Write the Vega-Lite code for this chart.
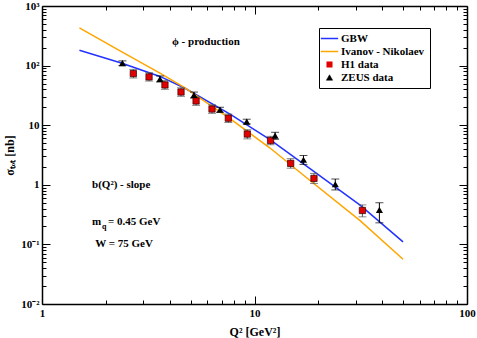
{
  "$schema": "https://vega.github.io/schema/vega-lite/v6.json",
  "width": 425,
  "height": 298,
  "autosize": {"type": "none"},
  "padding": {"left": 42, "top": 6, "right": 10, "bottom": 34},
  "background": "white",
  "config": {
    "view": {"stroke": null},
    "font": "Liberation Serif",
    "axis": {
      "domainColor": "black", "domainWidth": 1.5, "tickColor": "black", "tickWidth": 1,
      "labelFont": "Liberation Serif", "labelFontWeight": "bold", "labelFontSize": 11, "labelColor": "black",
      "titleFont": "Liberation Serif", "titleFontWeight": "bold", "titleFontSize": 12, "titleColor": "black",
      "grid": false, "labelFlush": false, "labelOverlap": false
    }
  },
  "datasets": {
    "curves": [
      {"series": "GBW", "Q2": 1.5, "sigma": 181.5},
      {"series": "GBW", "Q2": 2.38, "sigma": 109.7},
      {"series": "GBW", "Q2": 3.59, "sigma": 65.8},
      {"series": "GBW", "Q2": 4.71, "sigma": 41.7},
      {"series": "GBW", "Q2": 7.67, "sigma": 15.4},
      {"series": "GBW", "Q2": 11.83, "sigma": 5.75},
      {"series": "GBW", "Q2": 18.25, "sigma": 1.87},
      {"series": "GBW", "Q2": 31.4, "sigma": 0.456},
      {"series": "GBW", "Q2": 50, "sigma": 0.11},
      {"series": "Ivanov - Nikolaev", "Q2": 1.5, "sigma": 430},
      {"series": "Ivanov - Nikolaev", "Q2": 2.33, "sigma": 176.6},
      {"series": "Ivanov - Nikolaev", "Q2": 3.59, "sigma": 74.5},
      {"series": "Ivanov - Nikolaev", "Q2": 4.71, "sigma": 42.2},
      {"series": "Ivanov - Nikolaev", "Q2": 7.67, "sigma": 12.9},
      {"series": "Ivanov - Nikolaev", "Q2": 11.83, "sigma": 4.14},
      {"series": "Ivanov - Nikolaev", "Q2": 18.25, "sigma": 1.18},
      {"series": "Ivanov - Nikolaev", "Q2": 31.4, "sigma": 0.25},
      {"series": "Ivanov - Nikolaev", "Q2": 50, "sigma": 0.0564}
    ],
    "h1": [
      {"Q2": 2.69, "sigma": 73.5, "lo": 62, "hi": 86.5},
      {"Q2": 3.19, "sigma": 64.6, "lo": 55, "hi": 76},
      {"Q2": 3.79, "sigma": 47.4, "lo": 40, "hi": 56},
      {"Q2": 4.51, "sigma": 36.1, "lo": 30.5, "hi": 42.5},
      {"Q2": 5.31, "sigma": 25.5, "lo": 21.5, "hi": 30},
      {"Q2": 6.31, "sigma": 18.7, "lo": 15.8, "hi": 22},
      {"Q2": 7.53, "sigma": 13.1, "lo": 11.1, "hi": 15.4},
      {"Q2": 9.25, "sigma": 7.11, "lo": 5.9, "hi": 8.4},
      {"Q2": 11.9, "sigma": 5.53, "lo": 4.7, "hi": 6.5},
      {"Q2": 14.8, "sigma": 2.29, "lo": 1.9, "hi": 2.75},
      {"Q2": 19.05, "sigma": 1.28, "lo": 1.05, "hi": 1.55},
      {"Q2": 32.2, "sigma": 0.371, "lo": 0.29, "hi": 0.46}
    ],
    "zeus": [
      {"Q2": 2.39, "sigma": 110, "lo": 100, "hi": 120},
      {"Q2": 3.59, "sigma": 59.7, "lo": 53, "hi": 67},
      {"Q2": 5.19, "sigma": 32.1, "lo": 28.5, "hi": 36},
      {"Q2": 6.88, "sigma": 18.2, "lo": 16.5, "hi": 20},
      {"Q2": 9.19, "sigma": 11.5, "lo": 10.5, "hi": 12.6},
      {"Q2": 12.5, "sigma": 6.67, "lo": 5.8, "hi": 7.6},
      {"Q2": 17.0, "sigma": 2.63, "lo": 2.2, "hi": 3.1},
      {"Q2": 24.0, "sigma": 1.02, "lo": 0.82, "hi": 1.25},
      {"Q2": 38.7, "sigma": 0.38, "lo": 0.23, "hi": 0.5}
    ],
    "notes": [
      {"Q2": 4.09, "sigma": 250, "text": "ϕ - production"},
      {"Q2": 1.72, "sigma": 1.0, "text": "b(Q²) - slope"},
      {"Q2": 1.72, "sigma": 0.236, "text": "m"},
      {"Q2": 1.78, "sigma": 0.1, "text": "W = 75 GeV"}
    ],
    "subs": [
      {"Q2": 1.72, "sigma": 0.236, "text": "q"}
    ],
    "rest": [
      {"Q2": 1.72, "sigma": 0.236, "text": "= 0.45 GeV"}
    ]
  },
  "layer": [
    {
      "data": {"name": "curves"},
      "mark": {"type": "line", "strokeWidth": 1.5, "clip": true},
      "encoding": {
        "x": {
          "field": "Q2", "type": "quantitative",
          "scale": {"type": "log", "domain": [1, 100], "nice": false},
          "axis": {
            "orient": "bottom", "title": "Q² [GeV²]", "titlePadding": 4, "labelPadding": 11,
            "values": [1,2,3,4,5,6,7,8,9,10,20,30,40,50,60,70,80,90,100],
            "labelExpr": "datum.value == 1 ? '1' : datum.value == 10 ? '10' : datum.value == 100 ? '100' : ''",
            "tickSize": {"condition": {"test": "datum.value == 1 || datum.value == 10 || datum.value == 100", "value": -8}, "value": -4}
          }
        },
        "y": {
          "field": "sigma", "type": "quantitative",
          "scale": {"type": "log", "domain": [0.01, 1000], "nice": false},
          "axis": {
            "orient": "left", "title": "σₜₒₜ [nb]", "titlePadding": 4, "labelPadding": 11,
            "values": [0.01,0.02,0.03,0.04,0.05,0.06,0.07,0.08,0.09,0.1,0.2,0.3,0.4,0.5,0.6,0.7,0.8,0.9,1,2,3,4,5,6,7,8,9,10,20,30,40,50,60,70,80,90,100,200,300,400,500,600,700,800,900,1000],
            "labelExpr": "datum.value == 1000 ? '10³' : datum.value == 100 ? '10²' : datum.value == 10 ? '10' : datum.value == 1 ? '1' : datum.value == 0.1 ? '10⁻¹' : datum.value == 0.01 ? '10⁻²' : ''",
            "tickSize": {"condition": {"test": "datum.value == 0.01 || datum.value == 0.1 || datum.value == 1 || datum.value == 10 || datum.value == 100 || datum.value == 1000", "value": -8}, "value": -4}
          }
        },
        "color": {
          "field": "series", "type": "nominal",
          "scale": {"domain": ["GBW", "Ivanov - Nikolaev", "H1 data", "ZEUS data"], "range": ["#2233ff", "#ffa500", "#e00000", "black"]},
          "legend": {
            "title": null, "orient": "none", "legendX": 277, "legendY": 22,
            "strokeColor": "black", "fillColor": "white", "padding": 5,
            "labelFont": "Liberation Serif", "labelFontWeight": "bold", "labelFontSize": 11, "labelColor": "black",
            "symbolType": "stroke", "symbolSize": 300, "rowPadding": 1, "labelOffset": 6,
            "encode": {
              "symbols": {"update": {
                "shape": {"signal": "datum.value == 'H1 data' ? 'square' : datum.value == 'ZEUS data' ? 'triangle-up' : 'stroke'"},
                "size": {"signal": "datum.value == 'H1 data' ? 30 : datum.value == 'ZEUS data' ? 40 : 300"},
                "fill": {"signal": "datum.value == 'H1 data' ? '#e00000' : datum.value == 'ZEUS data' ? 'black' : 'transparent'"},
                "stroke": {"signal": "datum.value == 'GBW' ? '#2233ff' : datum.value == 'Ivanov - Nikolaev' ? '#ffa500' : 'black'"},
                "strokeWidth": {"signal": "datum.value == 'H1 data' || datum.value == 'ZEUS data' ? 0.5 : 1.5"},
                "opacity": {"value": 1}
              }}
            }
          }
        }
      }
    },
    {
      "data": {"name": "curves"},
      "mark": {"type": "point", "opacity": 0},
      "encoding": {
        "x": {
          "field": "Q2", "type": "quantitative",
          "axis": {
            "orient": "top", "title": null, "labels": false,
            "values": [1,2,3,4,5,6,7,8,9,10,20,30,40,50,60,70,80,90,100],
            "tickSize": {"condition": {"test": "datum.value == 1 || datum.value == 10 || datum.value == 100", "value": -8}, "value": -4}
          }
        },
        "y": {
          "field": "sigma", "type": "quantitative",
          "axis": {
            "orient": "right", "title": null, "labels": false,
            "values": [0.01,0.02,0.03,0.04,0.05,0.06,0.07,0.08,0.09,0.1,0.2,0.3,0.4,0.5,0.6,0.7,0.8,0.9,1,2,3,4,5,6,7,8,9,10,20,30,40,50,60,70,80,90,100,200,300,400,500,600,700,800,900,1000],
            "tickSize": {"condition": {"test": "datum.value == 0.01 || datum.value == 0.1 || datum.value == 1 || datum.value == 10 || datum.value == 100 || datum.value == 1000", "value": -8}, "value": -4}
          }
        }
      }
    },
    {
      "data": {"name": "h1"},
      "mark": {"type": "errorbar", "color": "#555555", "ticks": {"size": 8}},
      "encoding": {
        "x": {"field": "Q2", "type": "quantitative", "axis": null},
        "y": {"field": "lo", "type": "quantitative", "axis": null},
        "y2": {"field": "hi"}
      }
    },
    {
      "data": {"name": "zeus"},
      "mark": {"type": "errorbar", "color": "black", "ticks": {"size": 8}},
      "encoding": {
        "x": {"field": "Q2", "type": "quantitative", "axis": null},
        "y": {"field": "lo", "type": "quantitative", "axis": null},
        "y2": {"field": "hi"}
      }
    },
    {
      "data": {"name": "h1"},
      "mark": {"type": "point", "shape": "square", "filled": true, "fill": "#e00000", "stroke": "#300000", "strokeWidth": 0.7, "size": 40, "opacity": 1},
      "encoding": {
        "x": {"field": "Q2", "type": "quantitative", "axis": null},
        "y": {"field": "sigma", "type": "quantitative", "axis": null}
      }
    },
    {
      "data": {"name": "zeus"},
      "mark": {"type": "point", "shape": "triangle-up", "filled": true, "fill": "black", "size": 50, "opacity": 1},
      "encoding": {
        "x": {"field": "Q2", "type": "quantitative", "axis": null},
        "y": {"field": "sigma", "type": "quantitative", "axis": null}
      }
    },
    {
      "data": {"name": "notes"},
      "mark": {"type": "text", "align": "left", "baseline": "middle", "font": "Liberation Serif", "fontWeight": "bold", "fontSize": 11, "color": "black"},
      "encoding": {
        "x": {"field": "Q2", "type": "quantitative", "axis": null},
        "y": {"field": "sigma", "type": "quantitative", "axis": null},
        "text": {"field": "text"}
      }
    },
    {
      "data": {"name": "subs"},
      "mark": {"type": "text", "align": "left", "baseline": "middle", "font": "Liberation Serif", "fontWeight": "bold", "fontSize": 8, "color": "black", "dx": 10, "dy": 5},
      "encoding": {
        "x": {"field": "Q2", "type": "quantitative", "axis": null},
        "y": {"field": "sigma", "type": "quantitative", "axis": null},
        "text": {"field": "text"}
      }
    },
    {
      "data": {"name": "rest"},
      "mark": {"type": "text", "align": "left", "baseline": "middle", "font": "Liberation Serif", "fontWeight": "bold", "fontSize": 11, "color": "black", "dx": 16},
      "encoding": {
        "x": {"field": "Q2", "type": "quantitative", "axis": null},
        "y": {"field": "sigma", "type": "quantitative", "axis": null},
        "text": {"field": "text"}
      }
    }
  ],
  "resolve": {"axis": {"x": "independent", "y": "independent"}}
}
